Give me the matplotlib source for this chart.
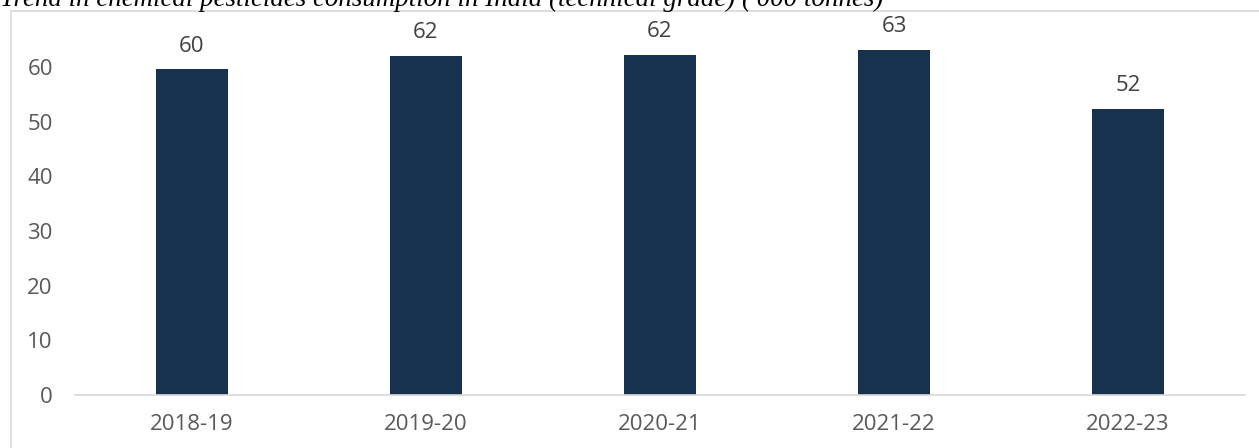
import matplotlib
matplotlib.use("Agg")
import matplotlib.pyplot as plt
from matplotlib.patches import Rectangle

title = "Trend in chemical pesticides consumption in India (technical grade) ('000 tonnes)"
categories = ["2018-19", "2019-20", "2020-21", "2021-22", "2022-23"]
values = [59.6, 62.0, 62.2, 63.1, 52.3]
labels = ["60", "62", "62", "63", "52"]

W, H, DPI = 1259, 448, 100
fig = plt.figure(figsize=(W / DPI, H / DPI), dpi=DPI)
fig.patch.set_facecolor("white")

# outer chart border (light gray), extends past right/bottom edges
fig.patches.append(Rectangle((11 / W, -0.2), 1.5, 1.2 - 11 / H,
                             transform=fig.transFigure, fill=False,
                             edgecolor="#d9d9d9", linewidth=1.2, figure=fig))

ax = fig.add_axes([75 / W, (H - 395) / H, (1245 - 75) / W, (395 - 12.3) / H])
x = range(len(categories))
ax.bar(x, values, width=0.31, color="#17324f")
ax.set_xlim(-0.5, len(categories) - 0.5)
ax.set_ylim(0, 70)
ax.set_yticks([0, 10, 20, 30, 40, 50, 60])
ax.set_xticks(list(x))
ax.set_xticklabels(categories)
for s in ["top", "right", "left"]:
    ax.spines[s].set_visible(False)
ax.spines["bottom"].set_color("#d9d9d9")
ax.spines["bottom"].set_linewidth(1.2)
ax.tick_params(axis="both", length=0, labelsize=16, labelcolor="#595959")
ax.tick_params(axis="y", pad=16)
ax.tick_params(axis="x", pad=14)
for lab in ax.get_xticklabels() + ax.get_yticklabels():
    lab.set_family("Open Sans")
ax.patch.set_alpha(0)

for xi, v, t in zip(x, values, labels):
    ax.annotate(t, (xi, v), xytext=(0, 12.7), textcoords="offset points",
                ha="center", va="baseline", fontsize=16, color="#404040",
                family="Open Sans")

fig.text(0.0, (H - 6) / H, title, ha="left", va="baseline", fontsize=19.4,
         style="italic", family="Liberation Serif", color="black")

fig.savefig("out.png", dpi=DPI)
